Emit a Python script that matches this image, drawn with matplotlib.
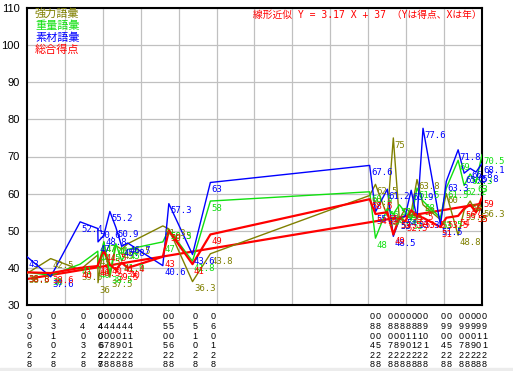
import datetime as dt
import matplotlib
matplotlib.use('Agg')
import matplotlib.pyplot as plt
import matplotlib.dates as mdates
from matplotlib.transforms import blended_transform_factory
from matplotlib.patches import Rectangle

plt.rcParams['font.family'] = ['Noto Sans CJK JP', 'DejaVu Sans']

# measurement dates (yymmdd) used as x tick labels
dates = ['030628', '031028', '040328', '040627', '040628', '040728', '040828',
         '040928', '041028', '041128', '050528', '050628', '051028', '060128',
         '080428', '080528', '080728', '080828', '080928', '081028', '081128',
         '081228', '090128', '090428', '090528', '090728', '090828', '090928',
         '091028', '091128']

kyoryoku = [38.5, 42.5, 39.5, 43.5, 36, 47, 37.5, 46, 45, 46.5,
            51.3, 50.5, 36.3, 43.8, 59.5, 62.5, 54, 75, 53, 56,
            55, 63.8, 57, 53, 60, 48.8, 55.5, 58, 55, 56.3]
juryo = [38.8, 38, 41, 44.5, 40, 47, 38.5, 46.5, 41.9, 45,
         47, 50.3, 41.8, 58, 60.5, 48, 56, 54.5, 57, 55,
         53, 61.5, 58, 53.5, 61.5, 69, 62.2, 65.3, 63, 70.5]
sozai = [43, 37.6, 52.4, 50.6, 47, 48.8, 55.2, 50.9, 45.8, 46.7,
         40.6, 57.3, 43.6, 63, 67.6, 55.1, 61.2, 48.5, 53, 54,
         60.9, 53.3, 77.6, 51.5, 63.3, 71.8, 65.5, 66.8, 65.8, 68.1]
sogo = [38.8, 38.6, 40, 40.5, 41, 44.5, 40.9, 39.5, 41.4, 40,
        43, 50, 41, 49, 58.5, 54.5, 55, 49, 53.5, 52.5,
        55.5, 54, 53.5, 51, 53.5, 54, 56, 57, 55, 59]

# linear trend line (Y = 3.17 X + 37) end points
trend_dates = ['030628', '091128']
trend_vals = [37.0, 57.3]

names = ['強力語彙', '重量語彙', '素材語彙', '総合得点']
colors = ['#808000', '#10e010', '#0000ff', '#ff0000']
series = [kyoryoku, juryo, sozai, sogo]
widths = [1.0, 1.0, 1.0, 1.6]


def to_date(s):
    return dt.datetime(2000 + int(s[:2]), int(s[2:4]), int(s[4:]))


x = [to_date(s) for s in dates]

W, H = 513, 371
fig = plt.figure(figsize=(W / 100, H / 100), dpi=100)
fig.patches.append(Rectangle((0, 0), 1, 3 / H, transform=fig.transFigure,
                             color='#ececec', zorder=0))
ax = fig.add_axes([27 / W, 1 - 305 / H, 455 / W, 297 / H])
ax.set_xlim(x[0], x[-1])
ax.set_ylim(30, 110)

# grid: 12 even columns, rows every 10
x0, x1 = mdates.date2num(x[0]), mdates.date2num(x[-1])
for i in range(1, 12):
    ax.axvline(x0 + (x1 - x0) * i / 12, color='#c0c0c0', lw=0.9, zorder=0)
ax.set_yticks(range(30, 111, 10))
ax.grid(axis='y', color='#c0c0c0', lw=0.9, zorder=0)
ax.set_xticks([])
ax.tick_params(axis='y', length=0, pad=5)
for lab in ax.get_yticklabels():
    lab.set_family(['Liberation Sans Narrow', 'Liberation Sans'])
    lab.set_fontsize(8)
for sp in ax.spines.values():
    sp.set_linewidth(1.5)
    sp.set_color('black')

# x tick labels written vertically, one character per line
trans = blended_transform_factory(ax.transData, ax.transAxes)
for d, s in zip(x, dates):
    ax.text(d, -0.025, '\n'.join(s), transform=trans, ha='left', va='top',
            fontsize=6.5, linespacing=1.08,
            family=['Liberation Sans Narrow', 'Liberation Sans'])

# trend line
ax.plot([to_date(s) for s in trend_dates], trend_vals, color='#ff0000', lw=1.6, zorder=2)

for vals, c, lw in zip(series, colors, widths):
    ax.plot(x, vals, color=c, lw=lw, zorder=3)

for vals, c in zip(series, colors):
    for d, v in zip(x, vals):
        ax.annotate('%g' % v, (d, v), xytext=(1, -2), textcoords='offset points',
                    ha='left', va='top', color=c, fontsize=6.5,
                    family=['DejaVu Sans Mono'], zorder=4, annotation_clip=False)

# legend-like labels at top left
for i, (n, c) in enumerate(zip(names, colors)):
    fig.text(35 / W, 1 - (14 + 12 * i) / H, n, color=c, fontsize=8, va='center', ha='left')

fig.text(253 / W, 1 - 15 / H, '線形近似 Y = 3.17 X + 37 （Yは得点、Xは年）',
         color='#ff0000', fontsize=7, va='center', ha='left',
         family=['DejaVu Sans Mono', 'Noto Sans CJK JP'])

fig.savefig('out.png', dpi=100)
